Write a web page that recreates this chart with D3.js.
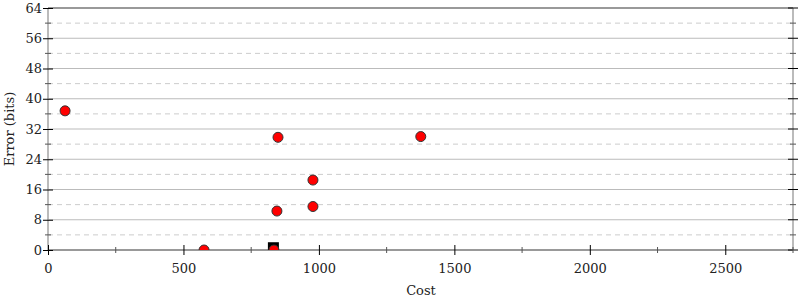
<!DOCTYPE html>
<html><head><meta charset="utf-8">
<script src="https://cdn.jsdelivr.net/npm/d3@7"></script>
<style>body{margin:0;background:#fff}svg{display:block}text{font-family:"DejaVu Serif",serif}</style>
</head><body><svg id="c" width="800" height="300"></svg>
<script>
const costs  = [63, 576, 849, 845, 978, 978, 1376, 834];
const errors = [36.8, 0, 29.8, 10.3, 18.5, 11.5, 30, 0];
const bestCost = [832];
const bestError = [0.6];
const yMajor = [0, 8, 16, 24, 32, 40, 48, 56, 64];
const yMinor = [4, 12, 20, 28, 36, 44, 52, 60];
const xMajor = [0, 500, 1000, 1500, 2000, 2500];
const xMinor = [250, 750, 1250, 1750, 2250, 2750];

const svg = d3.select("#c");
const L = 48, R = 793, T = 8, B = 250;
const x = d3.scaleLinear().domain([0, 2750]).range([L, R]);
const y = d3.scaleLinear().domain([0, 64]).range([B, T]);

// grid
svg.append("g").selectAll("line").data(yMinor).join("line")
  .attr("x1", L).attr("x2", R).attr("y1", d => y(d)).attr("y2", d => y(d))
  .attr("stroke", "#ccc").attr("stroke-dasharray", "5,4");
svg.append("g").selectAll("line").data(yMajor.filter(d => d > 0 && d < 64)).join("line")
  .attr("x1", L).attr("x2", R).attr("y1", d => y(d)).attr("y2", d => y(d))
  .attr("stroke", d => d === 32 ? "#ddd" : "#bbb").attr("stroke-width", d => d === 32 ? 2 : 1.2);

// frame
svg.append("line").attr("x1", L).attr("x2", L).attr("y1", T).attr("y2", B).attr("stroke", "#bbb").attr("stroke-width", 2);
svg.append("line").attr("x1", R).attr("x2", R).attr("y1", T).attr("y2", B).attr("stroke", "#bbb").attr("stroke-width", 2);
svg.append("line").attr("x1", L).attr("x2", R).attr("y1", y(64)).attr("y2", y(64)).attr("stroke", "#999").attr("stroke-width", 2);
svg.append("line").attr("x1", L).attr("x2", R).attr("y1", y(0)).attr("y2", y(0)).attr("stroke", "#999").attr("stroke-width", 2);

const fmt = d3.format("d");
// left axis
const yAx = d3.axisLeft(y).tickValues(yMajor).tickFormat(fmt).tickSize(5).tickPadding(4);
const gy = svg.append("g").attr("transform", `translate(${L},0)`).call(yAx);
gy.select(".domain").remove();
gy.selectAll(".tick line").attr("x2", 5).attr("x1", -5).attr("stroke", "#000");
gy.selectAll("text").attr("font-size", 13).attr("fill", "#222").attr("x", -6);
svg.append("g").selectAll("line").data(yMinor).join("line")
  .attr("x1", L - 3).attr("x2", L + 3).attr("y1", d => y(d)).attr("y2", d => y(d)).attr("stroke", "#555");

// right axis ticks
svg.append("g").selectAll("line").data(yMajor).join("line")
  .attr("x1", R - 5).attr("x2", R + 5).attr("y1", d => y(d)).attr("y2", d => y(d)).attr("stroke", "#000");
svg.append("g").selectAll("line").data(yMinor).join("line")
  .attr("x1", R - 3).attr("x2", R + 3).attr("y1", d => y(d)).attr("y2", d => y(d)).attr("stroke", "#555");

// bottom axis
const xAx = d3.axisBottom(x).tickValues(xMajor).tickFormat(fmt).tickSize(5).tickPadding(9);
const gx = svg.append("g").attr("transform", `translate(0,${B})`).call(xAx);
gx.select(".domain").remove();
gx.selectAll(".tick line").attr("y1", -5).attr("y2", 5).attr("stroke", "#000");
gx.selectAll("text").attr("font-size", 13).attr("fill", "#222");
svg.append("g").selectAll("line").data(xMinor).join("line")
  .attr("x1", d => x(d)).attr("x2", d => x(d)).attr("y1", B - 3).attr("y2", B + 3).attr("stroke", "#555");

// titles
svg.append("text").attr("x", 421).attr("y", 295).attr("text-anchor", "middle").attr("font-size", 13).attr("fill", "#222").text("Cost");
svg.append("text").attr("transform", `translate(14,${(T + B) / 2}) rotate(-90)`).attr("text-anchor", "middle").attr("font-size", 13).attr("fill", "#222").text("Error (bits)");

// clip
svg.append("clipPath").attr("id", "clip").append("rect").attr("x", L).attr("y", T).attr("width", R - L).attr("height", B - T);
const pg = svg.append("g").attr("clip-path", "url(#clip)");

pg.selectAll("rect.best").data(bestCost.map((c, i) => [c, bestError[i]])).join("rect").attr("class", "best")
  .attr("x", d => x(d[0]) - 5.5).attr("y", d => y(d[1]) - 5.5).attr("width", 11).attr("height", 11)
  .attr("fill", "#000");
pg.selectAll("circle").data(costs.map((c, i) => [c, errors[i]])).join("circle")
  .attr("cx", d => x(d[0])).attr("cy", d => y(d[1])).attr("r", 5)
  .attr("fill", "#f00").attr("stroke", "#333").attr("stroke-width", 1);
</script></body></html>
